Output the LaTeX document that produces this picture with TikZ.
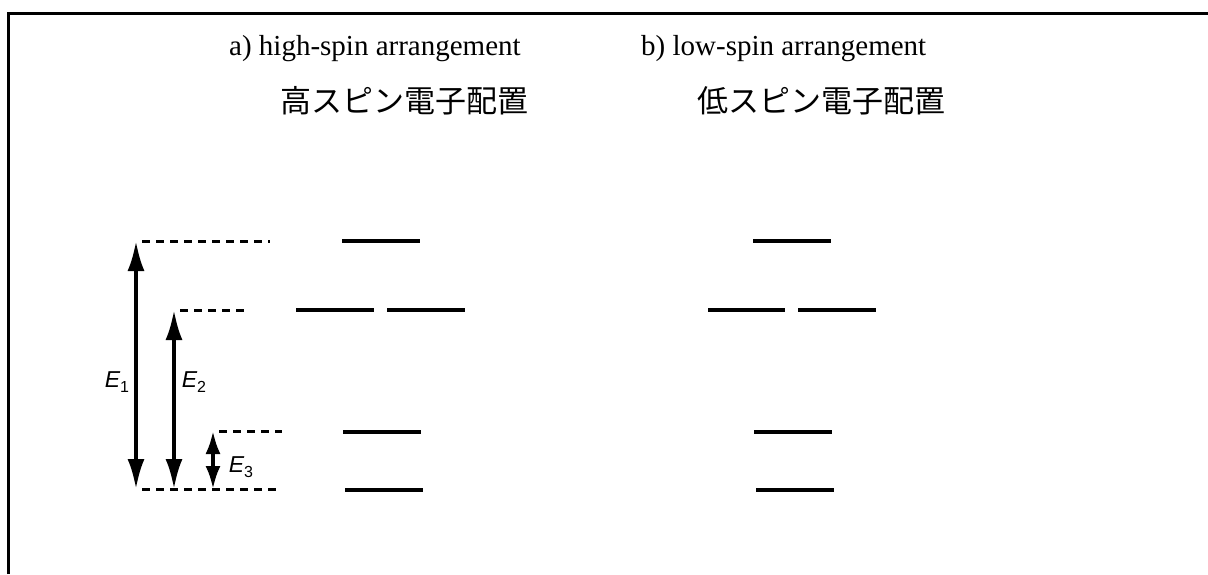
\documentclass[tikz,border=0pt]{standalone}
\usepackage{fontspec}
\setmainfont{Liberation Serif}
\newfontfamily\cjkfont{Noto Sans CJK JP}
\newfontfamily\arialfont{Liberation Sans}
\usetikzlibrary{arrows.meta}
\newcommand\elab[1]{{\arialfont\fontsize{23}{23}\selectfont\itshape E\raisebox{-5pt}{\upshape\fontsize{16}{16}\selectfont #1}}}
\begin{document}
\begin{tikzpicture}[x=1pt,y=-1pt,
  frameline/.style={line width=3pt},
  levelline/.style={line width=3.4pt},
  guide/.style={line width=3pt, dash pattern=on 8pt off 6pt},
  bigtip/.style={line width=3.6pt, {Latex[length=30pt,width=17pt]}-{Latex[length=30pt,width=17pt]}},
  smalltip/.style={line width=3.6pt, {Latex[length=23pt,width=15pt]}-{Latex[length=23pt,width=15pt]}},
  entext/.style={font=\fontsize{29}{29}\selectfont, inner sep=0pt, anchor=base west},
  jptext/.style={font=\cjkfont\fontsize{31}{31}\selectfont, inner sep=0pt, anchor=west},
  elabel/.style={inner sep=0pt}
]
\useasboundingbox (0,0) rectangle (1208,574);
% frame
\draw[frameline] (8,574) -- (8,13) -- (1210,13);
% titles
\node[entext] (ta) at (229,55) {a) high-spin arrangement};
\node[entext] (tb) at (641,55) {b) low-spin arrangement};
\node[jptext] (ja) at (280,101) {高スピン電子配置};
\node[jptext] (jb) at (697,101) {低スピン電子配置};
% coordinates of reference levels
\coordinate (g1a) at (136,241); \coordinate (g1b) at (270,241);
\coordinate (g2a) at (174,310); \coordinate (g2b) at (245,310);
\coordinate (g3a) at (213,431); \coordinate (g3b) at (282,431);
\coordinate (g0a) at (136,489); \coordinate (g0b) at (280,489);
\coordinate (e1b) at (136,489); \coordinate (e2b) at (174,489); \coordinate (e3b) at (213,489);
% guides
\draw[guide] ([xshift=6pt]g1a) -- (g1b);
\draw[guide] ([xshift=6pt]g2a) -- (g2b);
\draw[guide] ([xshift=6pt]g3a) -- (g3b);
\draw[guide] ([xshift=6pt]g0a) -- (g0b);
% energy arrows
\draw[bigtip] (e1b) -- (g1a);
\draw[bigtip] (e2b) -- (g2a);
\draw[smalltip] (e3b) -- (g3a);
\node[elabel] (l1) at (117,382) {\elab{1}};
\node[elabel] (l2) at (194,382) {\elab{2}};
\node[elabel] (l3) at (241,467) {\elab{3}};
% high-spin levels
\draw[levelline] (342,241) -- (420,241);
\draw[levelline] (296,310) -- (374,310);
\draw[levelline] (387,310) -- (465,310);
\draw[levelline] (343,432) -- (421,432);
\draw[levelline] (345,490) -- (423,490);
% low-spin levels
\draw[levelline] (753,241) -- (831,241);
\draw[levelline] (708,310) -- (785,310);
\draw[levelline] (798,310) -- (876,310);
\draw[levelline] (754,432) -- (832,432);
\draw[levelline] (756,490) -- (834,490);
\end{tikzpicture}
\end{document}
